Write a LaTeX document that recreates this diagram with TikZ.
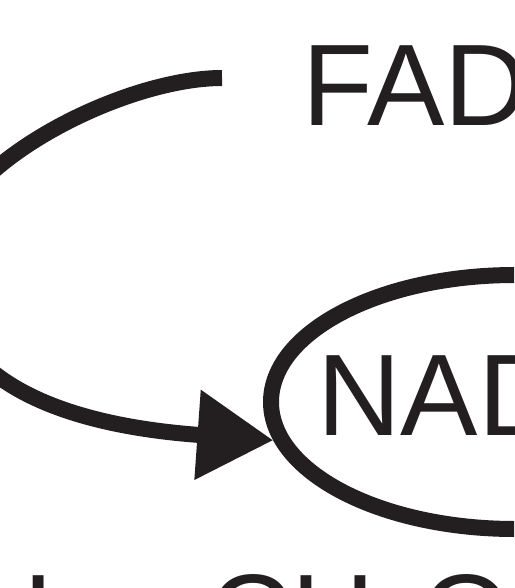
\documentclass[tikz,border=0pt]{standalone}
\usepackage{fontspec}
\setmainfont{Liberation Sans}
\usetikzlibrary{positioning, shapes.geometric, arrows.meta}
\definecolor{ink}{RGB}{35,31,32}

\begin{document}
\begin{tikzpicture}[
        x=1pt, y=-1pt,
        txt/.style={inner sep=0pt, text=ink, font=\fontsize{116}{116}\selectfont},
        ring/.style={draw=ink, line width=16pt, ellipse, minimum width=488pt, minimum height=254pt, inner sep=0pt},
        flow/.style={draw=ink, line width=16pt, -{Triangle[length=76pt, width=86pt]}},
    ]
        \useasboundingbox (0,0) rectangle (514,588);
        \clip (0,0) rectangle (514,588);
        % Labels
        \node[txt, anchor=base west] (fad) at (302.5,126) {FAD};
        \node[ring] (nadring) at (515,402) {};
        \node[txt, anchor=base west] (nad) at (317,435) {NAD};
        % Bottom row, cut by the edge
        \node[txt, anchor=base west] (ileft) at (22,655) {I};
        \node[txt, anchor=base west] (ch) at (208,655) {CH\textsubscript{2}O};
        % Curved arrow
        \coordinate (tail) at (222,78);
        \draw[flow] (tail) .. controls (120,78) and (-60,170) .. (-60,262)
            .. controls (-60,380) and (60,425) .. (nadring.189);
\end{tikzpicture}
\end{document}
